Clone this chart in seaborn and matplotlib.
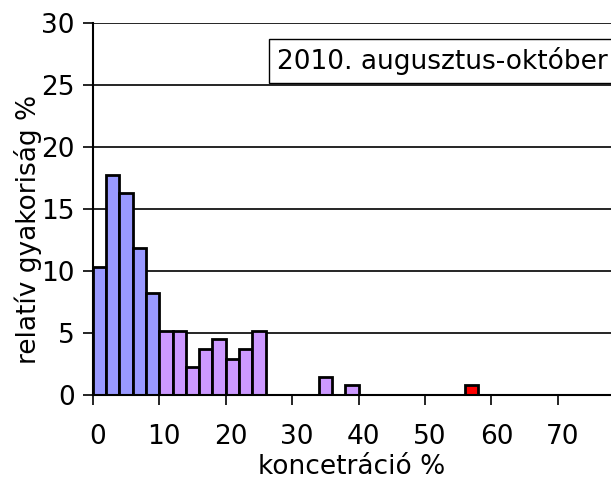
import numpy as np
import pandas as pd
import matplotlib
matplotlib.use("Agg")
import matplotlib.pyplot as plt
import matplotlib.transforms as mtransforms
import seaborn as sns

# bin start (koncentráció %, 2 % wide bins) and relative frequency %
bin_start = [0, 2, 4, 6, 8, 10, 12, 14, 16, 18, 20, 22, 24, 34, 38, 56]
freq = [10.3, 17.7, 16.3, 11.8, 8.2, 5.1, 5.1, 2.2, 3.7, 4.5, 2.9, 3.7, 5.1, 1.45, 0.75, 0.75]
group = ["a"] * 5 + ["b"] * 10 + ["c"]
colors = {"a": "#9999FF", "b": "#CC99FF", "c": "#FF0000"}

x_ticks = [0, 10, 20, 30, 40, 50, 60, 70]
y_ticks = [0, 5, 10, 15, 20, 25, 30]
title = "2010. augusztus-október"

df = pd.DataFrame({"mid": np.array(bin_start) + 1, "freq": freq, "group": group})

sns.set_style("white")
plt.rcParams["font.family"] = ["DejaVu Sans"]
plt.rcParams["text.color"] = "black"
plt.rcParams["axes.labelcolor"] = "black"
fs = 19

fig = plt.figure(figsize=(6.11, 4.82), dpi=100)
ax = fig.add_axes([0.152, 0.1815, 0.848, 0.7705])

for y in y_ticks[1:]:
    ax.axhline(y, color="black", lw=1.2, zorder=0)

sns.barplot(data=df, x="mid", y="freq", hue="group", palette=colors,
            native_scale=True, dodge=False, width=1, edgecolor="black",
            linewidth=2, saturation=1, legend=False, ax=ax, zorder=2)

ax.set_xlim(0, 78)
ax.set_ylim(0, 30)
ax.set_xticks(x_ticks)
ax.set_yticks(y_ticks)
ax.tick_params(axis="both", labelsize=fs, direction="out", length=7, width=1.2,
               color="black", labelcolor="black", bottom=True, left=True)
ax.tick_params(axis="x", pad=14)
ax.tick_params(axis="y", pad=6)
offset = mtransforms.ScaledTranslation(5 / 100, 0, fig.dpi_scale_trans)
for lab in ax.get_xticklabels():
    lab.set_transform(lab.get_transform() + offset)

ax.set_xlabel("koncetráció %", fontsize=fs)
ax.set_ylabel("relatív gyakoriság %", fontsize=fs)
ax.xaxis.set_label_coords(0.5, -0.195)
ax.yaxis.set_label_coords(-0.125, 0.445)
ax.xaxis.label.set_va("center")
ax.yaxis.label.set_va("center")

for side in ["top", "right"]:
    ax.spines[side].set_visible(False)
for side in ["left", "bottom"]:
    ax.spines[side].set_color("black")
    ax.spines[side].set_linewidth(1.5)
    ax.spines[side].set_zorder(3)

fig.text(0.4535, 0.874, title, fontsize=fs, va="center", ha="left",
         bbox=dict(boxstyle="square,pad=0.3", facecolor="white", edgecolor="black", lw=1))

fig.savefig("out.png", dpi=100)
